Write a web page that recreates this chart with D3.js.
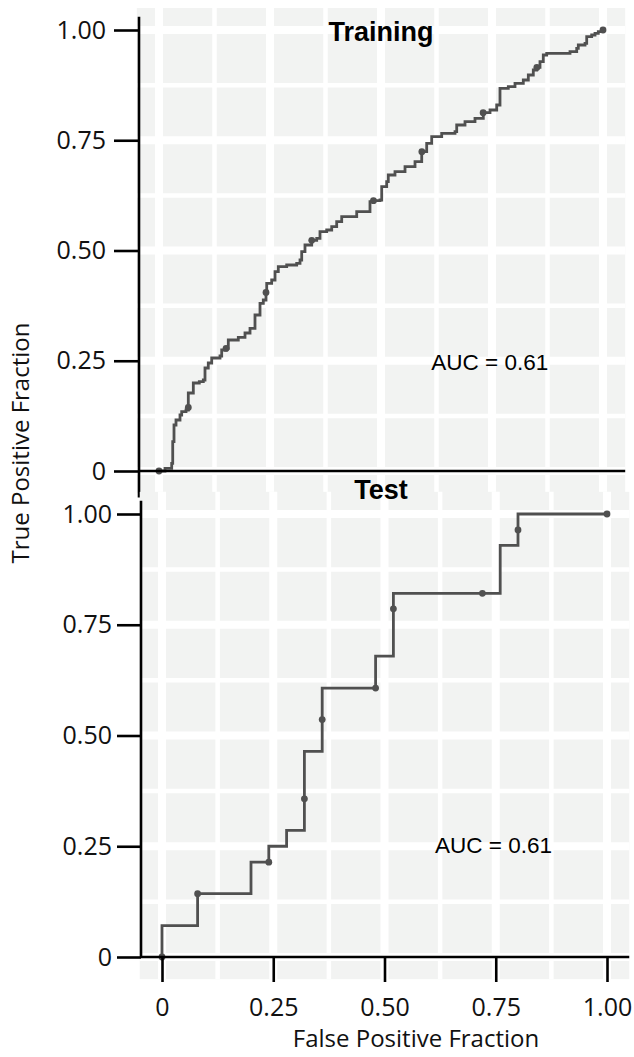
<!DOCTYPE html>
<html lang="en">
<head>
<meta charset="UTF-8">
<title>ROC Training / Test</title>
<script src="https://d3js.org/d3.v7.min.js"></script>
<style>
    body { margin: 0; background: #fff; }
    svg { display: block; }
    .tick text { font-family: "Open Sans", sans-serif; }
</style>
</head>
<body>
<svg width="634" height="1057"></svg>
<script>
    // ticks shared by both panels
    const majorTicks = [0, 0.25, 0.5, 0.75, 1];
    const minorTicks = [0.125, 0.375, 0.625, 0.875];
    const tickLabels = ["0", "0.25", "0.50", "0.75", "1.00"];

    // Training ROC (step vertices)
    const trainFpr = [0, 0.0135, 0.0286, 0.0309, 0.0338, 0.0383, 0.0473, 0.0511, 0.0608, 0.066, 0.066, 0.0773, 0.0908, 0.0998,
        0.1036, 0.111, 0.1187, 0.1374, 0.1412, 0.1509, 0.1561, 0.1786, 0.1937, 0.205, 0.2162, 0.2275, 0.2349, 0.241,
        0.2426, 0.2538, 0.2613, 0.2687, 0.2876, 0.3101, 0.3176, 0.3214, 0.3288, 0.3439, 0.3552, 0.3626, 0.3777, 0.389,
        0.4002, 0.4115, 0.4453, 0.4714, 0.4752, 0.4827, 0.4977, 0.5016, 0.5128, 0.5164, 0.5315, 0.5541, 0.5766, 0.5917,
        0.5917, 0.6029, 0.6142, 0.6367, 0.6667, 0.6705, 0.6892, 0.7117, 0.7304, 0.7455, 0.7606, 0.768, 0.768, 0.7867,
        0.8018, 0.8205, 0.8318, 0.843, 0.8507, 0.8581, 0.8655, 0.8732, 0.9257, 0.9408, 0.9444, 0.9595, 0.9633, 0.9745,
        0.982, 0.9894, 1];
    const trainTpr = [0, 0.0061, 0.0175, 0.0664, 0.1043, 0.1156, 0.127, 0.1345, 0.1383, 0.1444, 0.1769, 0.1995, 0.2025, 0.2063,
        0.2336, 0.2449, 0.2562, 0.2608, 0.2744, 0.2782, 0.2971, 0.3032, 0.3129, 0.3236, 0.3537, 0.3803, 0.3878, 0.4052,
        0.4256, 0.4331, 0.4519, 0.4633, 0.4671, 0.471, 0.4785, 0.4973, 0.5125, 0.5231, 0.5277, 0.5426, 0.5465, 0.554,
        0.5653, 0.5766, 0.588, 0.588, 0.6107, 0.6129, 0.6145, 0.6447, 0.656, 0.6712, 0.6787, 0.69, 0.7014, 0.7014,
        0.724, 0.7431, 0.758, 0.7658, 0.7694, 0.7846, 0.7921, 0.7998, 0.8125, 0.8186, 0.8299, 0.8451, 0.8678, 0.8714,
        0.8791, 0.8866, 0.898, 0.9093, 0.9154, 0.9281, 0.9433, 0.9472, 0.9508, 0.9585, 0.966, 0.9698, 0.9848, 0.9887,
        0.9925, 0.9961, 1];
    const trainPtFpr = [0, 0.066, 0.151, 0.241, 0.344, 0.483, 0.592, 0.730, 0.851, 1];
    const trainPtTpr = [0, 0.144, 0.278, 0.405, 0.523, 0.613, 0.724, 0.8125, 0.915, 1];

    // Test ROC
    const testFpr = [0, 0, 0.08, 0.2, 0.24, 0.28, 0.32, 0.36, 0.48, 0.52, 0.76, 0.80, 1];
    const testTpr = [0, 0.071, 0.143, 0.214, 0.25, 0.286, 0.464, 0.607, 0.679, 0.821, 0.929, 1, 1];
    const testPtFpr = [0, 0.08, 0.24, 0.32, 0.36, 0.48, 0.52, 0.72, 0.80, 1];
    const testPtTpr = [0, 0.143, 0.214, 0.357, 0.536, 0.607, 0.786, 0.821, 0.964, 1];

    const aucTrain = "AUC = 0.61";
    const aucTest = "AUC = 0.61";

    const svg = d3.select('svg');
    const lineColor = '#505050';
    const panelColor = '#f2f3f2';

    const panels = [
        {
            title: 'Training', auc: aucTrain,
            x: d3.scaleLinear().domain([0, 1]).range([159, 603]),
            y: d3.scaleLinear().domain([0, 1]).range([471, 30]),
            fpr: trainFpr, tpr: trainTpr, ptFpr: trainPtFpr, ptTpr: trainPtTpr,
            axisX: 139, yTop: 1.03, yBottom: -0.06, titleY: 41, aucPos: [0.745, 0.23],
            tickSize: 25, tickPad: 8, xAxisEnd: 1.05, showX: false
        },
        {
            title: 'Test', auc: aucTest,
            x: d3.scaleLinear().domain([0, 1]).range([162, 607]),
            y: d3.scaleLinear().domain([0, 1]).range([957, 514]),
            fpr: testFpr, tpr: testTpr, ptFpr: testPtFpr, ptTpr: testPtTpr,
            axisX: 141, yTop: 1.03, yBottom: 0, titleY: 499, aucPos: [0.745, 0.235],
            tickSize: 24, tickPad: 5, xAxisEnd: 1.05, showX: true
        }
    ];

    panels.forEach(p => {
        const g = svg.append('g');
        const x0 = p.x(-0.05), x1 = p.x(1.05);
        const y0 = p.y(1.05), y1 = p.y(-0.05);

        // grey panel
        g.append('rect')
            .attr('x', x0).attr('y', y0)
            .attr('width', x1 - x0).attr('height', y1 - y0)
            .attr('fill', panelColor);

        // grid - minor then major
        [[minorTicks, 4.5], [majorTicks, 8]].forEach(([vals, w]) => {
            g.selectAll(null).data(vals).enter().append('line')
                .attr('x1', d => p.x(d)).attr('x2', d => p.x(d))
                .attr('y1', y0).attr('y2', y1)
                .attr('stroke', '#fff').attr('stroke-width', w);
            g.selectAll(null).data(vals).enter().append('line')
                .attr('y1', d => p.y(d)).attr('y2', d => p.y(d))
                .attr('x1', x0).attr('x2', x1)
                .attr('stroke', '#fff').attr('stroke-width', w);
        });

        // roc step line
        const pts = p.fpr.map((f, i) => [f, p.tpr[i]]);
        g.append('path')
            .datum(pts)
            .attr('d', d3.line().x(d => p.x(d[0])).y(d => p.y(d[1])).curve(d3.curveStepAfter))
            .attr('fill', 'none')
            .attr('stroke', lineColor)
            .attr('stroke-width', 2.8);

        g.selectAll(null).data(p.ptFpr).enter().append('circle')
            .attr('cx', d => p.x(d))
            .attr('cy', (d, i) => p.y(p.ptTpr[i]))
            .attr('r', 3.4)
            .attr('fill', lineColor);

        // y axis
        const yAxis = d3.axisLeft(p.y)
            .tickValues(majorTicks)
            .tickFormat((d, i) => tickLabels[i])
            .tickSize(p.tickSize)
            .tickPadding(p.tickPad);
        const ya = g.append('g')
            .attr('transform', `translate(${p.axisX},0)`)
            .call(yAxis);
        ya.select('.domain').remove();
        ya.selectAll('line').attr('stroke', '#000').attr('stroke-width', 2.6);
        ya.selectAll('text').attr('font-size', 25).attr('fill', '#111');

        g.append('line')
            .attr('x1', p.axisX).attr('x2', p.axisX)
            .attr('y1', p.y(p.yTop)).attr('y2', p.y(p.yBottom))
            .attr('stroke', '#000').attr('stroke-width', 2.6);

        // x axis line at y = 0
        g.append('line')
            .attr('x1', p.axisX).attr('x2', p.x(p.xAxisEnd))
            .attr('y1', p.y(0)).attr('y2', p.y(0))
            .attr('stroke', '#000').attr('stroke-width', 2.6);

        if (p.showX) {
            const xAxis = d3.axisBottom(p.x)
                .tickValues(majorTicks)
                .tickFormat((d, i) => tickLabels[i])
                .tickSize(25)
                .tickPadding(16);
            const xa = g.append('g')
                .attr('transform', `translate(0,${p.y(0)})`)
                .call(xAxis);
            xa.select('.domain').remove();
            xa.selectAll('line').attr('stroke', '#000').attr('stroke-width', 2.6);
            xa.selectAll('text').attr('font-size', 25).attr('fill', '#111');
        }

        // titles
        g.append('text')
            .attr('x', 381).attr('y', p.titleY)
            .attr('text-anchor', 'middle')
            .attr('font-family', 'Liberation Sans, Arial, sans-serif')
            .attr('font-weight', 'bold')
            .attr('font-size', 27)
            .text(p.title);

        g.append('text')
            .attr('x', p.x(p.aucPos[0])).attr('y', p.y(p.aucPos[1]))
            .attr('text-anchor', 'middle')
            .attr('font-family', 'Liberation Sans, Arial, sans-serif')
            .attr('font-size', 22.5)
            .text(p.auc);
    });

    // axis titles
    svg.append('text')
        .attr('transform', 'translate(29,443) rotate(-90)')
        .attr('text-anchor', 'middle')
        .attr('font-family', 'Open Sans, sans-serif')
        .attr('font-size', 24)
        .attr('fill', '#111')
        .text('True Positive Fraction');

    svg.append('text')
        .attr('x', 416).attr('y', 1047)
        .attr('text-anchor', 'middle')
        .attr('font-family', 'Open Sans, sans-serif')
        .attr('font-size', 24)
        .attr('fill', '#111')
        .text('False Positive Fraction');
</script>
</body>
</html>
